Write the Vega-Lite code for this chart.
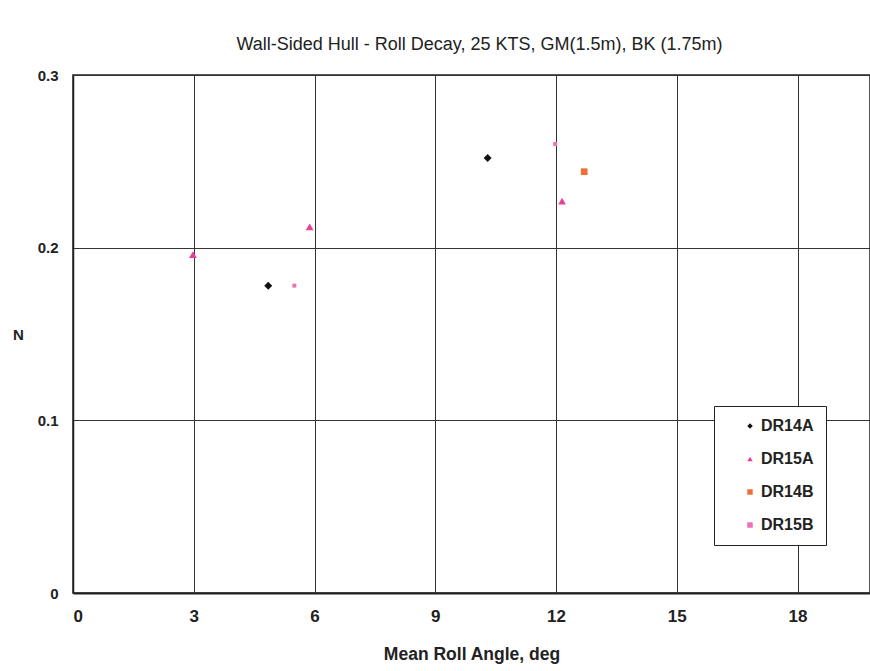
{
  "$schema": "https://vega.github.io/schema/vega-lite/v6.json",
  "autosize": "none",
  "padding": {"left": 73, "top": 75, "right": 0, "bottom": 78},
  "width": 797,
  "height": 518,
  "background": "white",
  "title": {
    "text": "Wall-Sided Hull - Roll  Decay, 25 KTS, GM(1.5m), BK (1.75m)",
    "font": "Liberation Sans",
    "fontSize": 18,
    "fontWeight": "normal",
    "color": "#222",
    "offset": 14,
    "dx": 8
  },
  "config": {
    "view": {"stroke": "#222", "strokeWidth": 1.5},
    "axis": {
      "labelFont": "Liberation Sans",
      "titleFont": "Liberation Sans",
      "labelFontWeight": "bold",
      "titleFontWeight": "bold",
      "labelColor": "#222",
      "titleColor": "#222",
      "gridColor": "#333",
      "gridOpacity": 1,
      "gridWidth": 1,
      "ticks": false,
      "domainColor": "#222"
    }
  },
  "data": {
    "values": [
      {"angle": 4.85, "N": 0.178, "run": "DR14A"},
      {"angle": 10.3, "N": 0.252, "run": "DR14A"},
      {"angle": 2.98, "N": 0.196, "run": "DR15A"},
      {"angle": 5.88, "N": 0.212, "run": "DR15A"},
      {"angle": 12.15, "N": 0.227, "run": "DR15A"},
      {"angle": 12.7, "N": 0.244, "run": "DR14B"},
      {"angle": 5.5, "N": 0.178, "run": "DR15B"},
      {"angle": 11.98, "N": 0.26, "run": "DR15B"}
    ]
  },
  "encoding": {
    "x": {
      "field": "angle",
      "type": "quantitative",
      "scale": {"domain": [0, 19.8], "nice": false, "zero": false},
      "axis": {
        "values": [0, 3, 6, 9, 12, 15, 18],
        "title": "Mean Roll Angle, deg",
        "labelFontSize": 17,
        "titleFontSize": 17.5,
        "labelPadding": 15,
        "titlePadding": 21,
        "domainWidth": 2
      }
    },
    "y": {
      "field": "N",
      "type": "quantitative",
      "scale": {"domain": [0, 0.3], "nice": false},
      "axis": {
        "values": [0, 0.1, 0.2, 0.3],
        "format": ".1~f",
        "title": "N",
        "labelFontSize": 15,
        "titleFontSize": 15,
        "titleAngle": 0,
        "titleAlign": "center",
        "titleBaseline": "middle",
        "titleX": -55,
        "titleY": 259,
        "labelPadding": 15,
        "domainWidth": 1.5
      }
    },
    "shape": {
      "field": "run",
      "type": "nominal",
      "scale": {
        "domain": ["DR14A", "DR15A", "DR14B", "DR15B"],
        "range": ["diamond", "triangle-up", "square", "square"]
      }
    },
    "color": {
      "field": "run",
      "type": "nominal",
      "scale": {
        "domain": ["DR14A", "DR15A", "DR14B", "DR15B"],
        "range": ["#111111", "#ea3f98", "#ee7035", "#f070b4"]
      },
      "legend": {
        "title": null,
        "orient": "none",
        "legendX": 641,
        "legendY": 331,
        "direction": "vertical",
        "strokeColor": "#222",
        "fillColor": "white",
        "padding": 12,
        "labelFont": "Liberation Sans",
        "labelFontWeight": "bold",
        "labelFontSize": 16,
        "labelColor": "#222",
        "labelExpr": "datum.label + '\u2003'",
        "rowPadding": 17,
        "symbolSize": 30,
        "labelOffset": 3,
        "offset": 0,
        "symbolOffset": 16
      }
    }
  },
  "layer": [
    {
      "transform": [{"filter": "datum.run === 'DR14A'"}],
      "mark": {"type": "point", "filled": true, "opacity": 1, "size": 64}
    },
    {
      "transform": [{"filter": "datum.run === 'DR15A'"}],
      "mark": {"type": "point", "filled": true, "opacity": 1, "size": 60}
    },
    {
      "transform": [{"filter": "datum.run === 'DR14B'"}],
      "mark": {"type": "point", "filled": true, "opacity": 1, "size": 45}
    },
    {
      "transform": [{"filter": "datum.run === 'DR15B'"}],
      "mark": {"type": "point", "filled": true, "opacity": 1, "size": 16}
    }
  ]
}
